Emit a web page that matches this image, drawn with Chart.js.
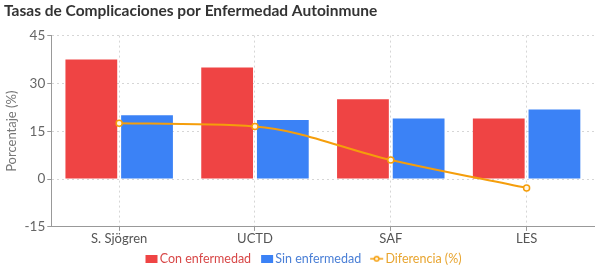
<!DOCTYPE html>
<html>
<head>
<meta charset="utf-8">
<script src="https://cdn.jsdelivr.net/npm/chart.js@4.4.1/dist/chart.umd.min.js"></script>
<style>
  html, body { margin: 0; padding: 0; background: #ffffff; }
  #wrap { width: 600px; height: 271px; position: relative; }
</style>
</head>
<body>
<div id="wrap"><canvas id="chart"></canvas></div>
<script>
// Datos
const categorias = ['S. Sjögren', 'UCTD', 'SAF', 'LES'];
const conEnfermedad = [37.5, 35, 25, 19];
const sinEnfermedad = [20, 18.5, 19, 21.8];
const diferencia = [17.5, 16.5, 6, -2.8];
const ticksY = [-15, 0, 15, 30, 45];

const ROJO = '#ef4444';
const AZUL = '#3b82f6';
const NARANJA = '#f59e0b';

Chart.defaults.font.family = 'Lato, "Noto Sans", sans-serif';
Chart.defaults.font.size = 13;
Chart.defaults.color = '#666666';

// Iconos de la leyenda: lienzo ancho con el dibujo a la derecha,
// así queda hueco entre elementos y el texto pegado al icono
function iconoCaja(color) {
  const c = document.createElement('canvas');
  c.width = 26; c.height = 8;
  const g = c.getContext('2d');
  g.fillStyle = color;
  g.fillRect(13, 0, 12, 8);
  return c;
}
function iconoLinea(color) {
  const c = document.createElement('canvas');
  c.width = 26; c.height = 8;
  const g = c.getContext('2d');
  g.strokeStyle = color;
  g.lineWidth = 1.5;
  g.beginPath(); g.moveTo(12, 4); g.lineTo(25, 4); g.stroke();
  g.fillStyle = '#fff7e6';
  g.beginPath(); g.arc(18.5, 4, 2.3, 0, Math.PI * 2); g.fill(); g.stroke();
  return c;
}

// Baja un poco la leyenda sin reducir el área del gráfico
const bajarLeyenda = {
  id: 'bajarLeyenda',
  afterLayout(chart) {
    if (chart.legend) {
      chart.legend.top += 4;
      chart.legend.bottom += 4;
    }
  }
};

const ctx = document.getElementById('chart').getContext('2d');

new Chart(ctx, {
  type: 'bar',
  data: {
    labels: categorias,
    datasets: [
      {
        type: 'bar',
        label: 'Con enfermedad',
        data: conEnfermedad,
        backgroundColor: ROJO,
        categoryPercentage: 0.82,
        barPercentage: 0.93,
        order: 2
      },
      {
        type: 'bar',
        label: 'Sin enfermedad',
        data: sinEnfermedad,
        backgroundColor: AZUL,
        categoryPercentage: 0.82,
        barPercentage: 0.93,
        order: 2
      },
      {
        type: 'line',
        label: 'Diferencia (%)',
        data: diferencia,
        borderColor: NARANJA,
        backgroundColor: '#fff7e6',
        borderWidth: 2,
        cubicInterpolationMode: 'monotone',
        pointRadius: 3,
        pointBorderWidth: 1.5,
        pointBorderColor: NARANJA,
        pointBackgroundColor: '#fff7e6',
        order: 1
      }
    ]
  },
  options: {
    responsive: true,
    maintainAspectRatio: false,
    animation: false,
    layout: { padding: { left: 4, right: 5, top: 0, bottom: 0 } },
    plugins: {
      title: {
        display: true,
        text: 'Tasas de Complicaciones por Enfermedad Autoinmune',
        align: 'start',
        color: '#333333',
        font: { size: 15.5, weight: 'bold' },
        padding: { top: 2, bottom: 15 }
      },
      legend: {
        position: 'bottom',
        labels: {
          usePointStyle: true,
          pointStyleWidth: 16,
          boxHeight: 10,
          padding: 2,
          font: { size: 12.5 },
          sort: (a, b) => a.datasetIndex - b.datasetIndex,
          generateLabels(chart) {
            const items = Chart.defaults.plugins.legend.labels.generateLabels(chart);
            items.forEach(it => {
              const ds = chart.data.datasets[it.datasetIndex];
              if (ds.type === 'line') {
                it.fontColor = '#e8a530';
                it.pointStyle = iconoLinea(ds.borderColor);
              } else {
                it.fontColor = ds.backgroundColor === ROJO ? '#d84848' : '#4a7fd6';
                it.pointStyle = iconoCaja(ds.backgroundColor);
              }
            });
            return items;
          }
        }
      },
      tooltip: { enabled: false }
    },
    scales: {
      x: {
        grid: {
          offset: false,
          color: '#d6d6d6',
          tickColor: '#999999',
          tickLength: 4
        },
        border: { color: '#999999', dash: [2, 3] },
        ticks: { color: '#555555', font: { size: 13 }, padding: 0 }
      },
      y: {
        min: -15,
        max: 45,
        afterBuildTicks(scale) {
          scale.ticks = ticksY.map(v => ({ value: v }));
        },
        grid: {
          color: '#d6d6d6',
          tickColor: '#999999',
          tickLength: 4
        },
        border: { color: '#999999', dash: [2, 3] },
        ticks: { color: '#666666', font: { size: 13.5 }, padding: 2 },
        title: {
          display: true,
          text: 'Porcentaje (%)',
          color: '#777777',
          font: { size: 13 },
          padding: { top: 0, bottom: 3 }
        }
      }
    }
  },
  plugins: [bajarLeyenda]
});
</script>
</body>
</html>
